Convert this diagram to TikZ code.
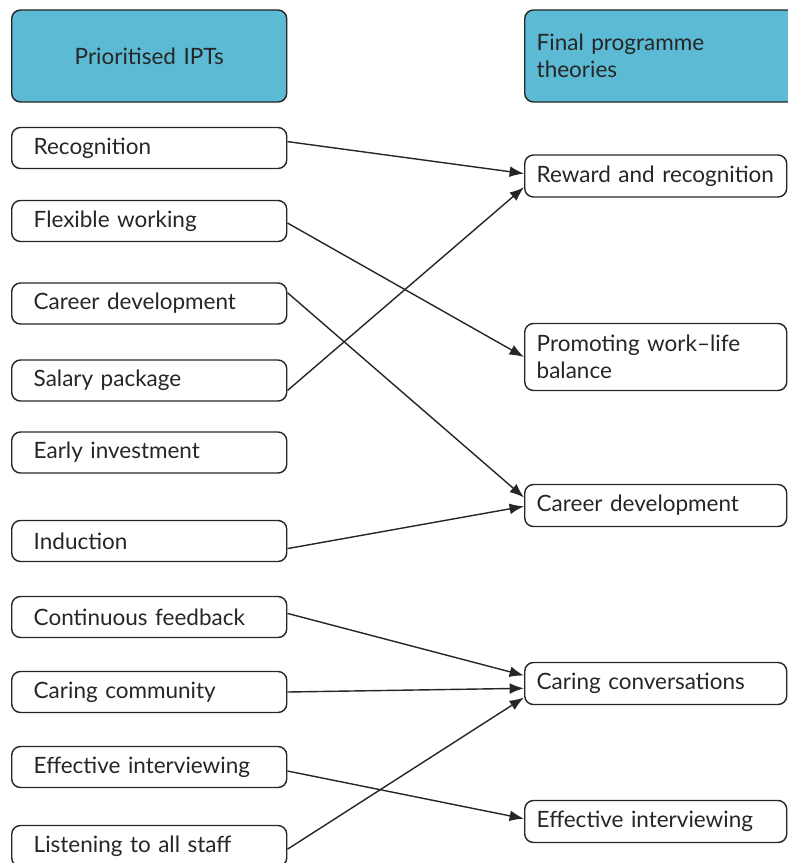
\documentclass[tikz,border=0pt]{standalone}
\usepackage{fontspec}
\setmainfont{Lato}
\usepackage{xcolor}
\usepackage{tikz}
\usetikzlibrary{arrows.meta}

\definecolor{headblue}{RGB}{92,186,212}

\begin{document}
\begin{tikzpicture}[
  x=0.025cm, y=-0.025cm,
  every node/.style={
    draw=black!85,
    line width=1pt,
    rounded corners=0.22cm,
    font=\fontsize{16}{19.5}\selectfont,
    text=black!85,
    anchor=west
  },
  ipt/.style={
    minimum width=6.875cm, text width=5.775cm,
    inner xsep=0.55cm, minimum height=1.025cm, align=left
  },
  theory/.style={
    minimum width=6.55cm, text width=5.95cm,
    inner xsep=0.3cm, minimum height=1.05cm, align=left
  },
  head/.style={fill=headblue, minimum height=2.3cm},
  link/.style={draw=black!85, line width=1pt, -{Latex[length=3.6mm,width=2.7mm]}}
]
\useasboundingbox (0,0) rectangle (788,863);

% Column headers
\node (ipthead) [head, minimum width=6.875cm, text width=6.4cm, align=center] at (11,56) {Prioritised IPTs};
\node (theohead) [head, minimum width=6.9cm, text width=6.3cm, inner xsep=0.3cm, align=left] at (524,56) {Final programme\\theories};

% Prioritised IPTs
\node (recog)      [ipt] at (11,148)   {Recognition};
\node (flexwork)   [ipt] at (11,221)   {Flexible working};
\node (careerdev)  [ipt] at (11,303.5) {Career development};
\node (salary)     [ipt] at (11,380.5) {Salary package};
\node (earlyinv)   [ipt] at (11,452.5) {Early investment};
\node (induction)  [ipt] at (11,541)   {Induction};
\node (contfeed)   [ipt] at (11,617)   {Continuous feedback};
\node (caringcomm) [ipt] at (11,692)   {Caring community};
\node (effint)     [ipt] at (11,767)   {Effective interviewing};
\node (listening)  [ipt] at (11,846)   {Listening to all staff};

% Final programme theories
\node (reward)     [theory] at (524,176)   {Reward and recognition};
\node (worklife)   [theory, minimum height=1.675cm] at (524,357) {Promoting work--life\\balance};
\node (careerfin)  [theory] at (524,505.5) {Career development};
\node (caringconv) [theory] at (524,683.5) {Caring conversations};
\node (effintfin)  [theory] at (524,821.5) {Effective interviewing};

% Links
\draw[link] ([yshift=0.16cm]recog.east) -- ([yshift=0.06cm]reward.west);
\draw[link] ([yshift=-0.25cm]salary.east) -- ([yshift=-0.28cm]reward.west);
\draw[link] ([yshift=-0.05cm]flexwork.east) -- (worklife.west);
\draw[link] ([yshift=0.27cm]careerdev.east) -- ([yshift=0.2cm]careerfin.west);
\draw[link] ([yshift=-0.19cm]induction.east) -- ([yshift=-0.02cm]careerfin.west);
\draw[link] ([yshift=0.09cm]contfeed.east) -- ([yshift=0.2cm]caringconv.west);
\draw[link] (caringcomm.east) -- ([yshift=-0.12cm]caringconv.west);
\draw[link] ([yshift=-0.08cm]listening.east) -- ([yshift=-0.35cm]caringconv.west);
\draw[link] ([yshift=-0.1cm]effint.east) -- ([yshift=0.07cm]effintfin.west);

\end{tikzpicture}
\end{document}
